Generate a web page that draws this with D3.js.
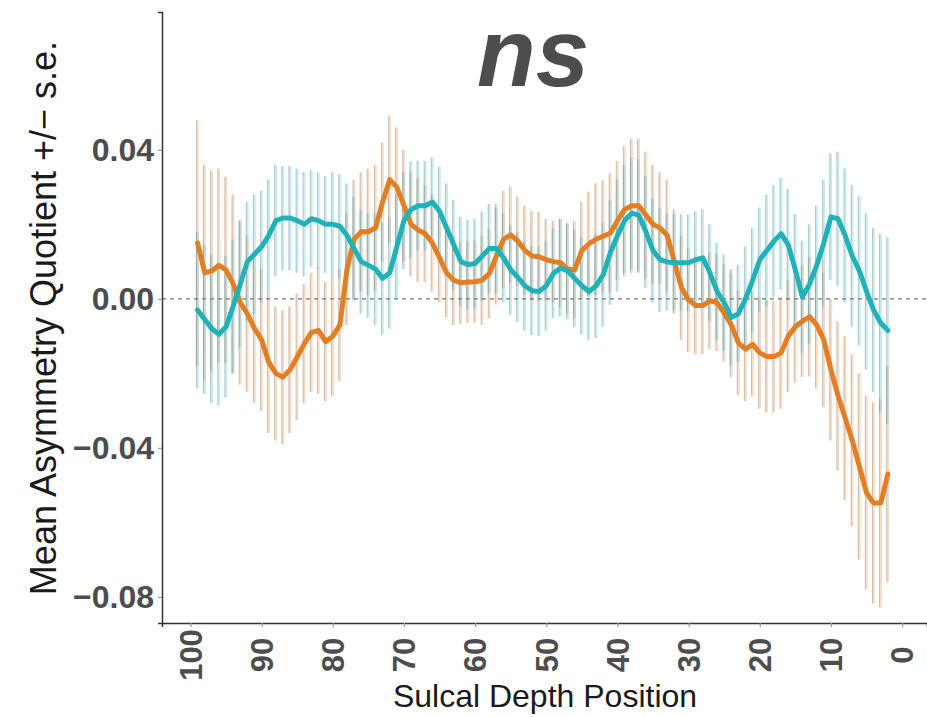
<!DOCTYPE html>
<html>
<head>
<meta charset="utf-8">
<script src="https://cdn.jsdelivr.net/npm/d3@7"></script>
<style>
  body { margin: 0; background: #fff; }
  text { font-family: "Liberation Sans", Arial, sans-serif; }
</style>
</head>
<body>
<div id="myVis"></div>
<script>
// sulcal depth positions, 99 down to 2
var positions = d3.range(99, 1, -1);

// orange group: mean and s.e. (position 99 -> 2)
var orangeMean = [
  0.015, 0.007, 0.0075, 0.009, 0.0078, 0.004, -0.001, -0.004, -0.008, -0.011,
  -0.017, -0.020, -0.021, -0.019, -0.0156, -0.012, -0.009, -0.0085, -0.0115, -0.010,
  -0.007, 0.008, 0.016, 0.018, 0.018, 0.019, 0.026, 0.032, 0.030, 0.025,
  0.020, 0.0185, 0.0175, 0.015, 0.011, 0.007, 0.005, 0.0043, 0.0045, 0.0046,
  0.005, 0.0068, 0.0115, 0.016, 0.0172, 0.0155, 0.013, 0.0115, 0.0113, 0.0105,
  0.010, 0.0097, 0.008, 0.0078, 0.013, 0.0148, 0.016, 0.0168, 0.0177, 0.021,
  0.024, 0.025, 0.025, 0.0225, 0.020, 0.019, 0.017, 0.010, 0.003, -0.0003,
  -0.0018, -0.0018, -0.0005, -0.001, -0.0038, -0.007, -0.0118, -0.0135, -0.0122, -0.0145,
  -0.0155, -0.0155, -0.0145, -0.010, -0.0075, -0.006, -0.0048, -0.007, -0.011, -0.019,
  -0.026, -0.032, -0.038, -0.045, -0.052, -0.0548, -0.0548, -0.047
];
var orangeSe = [
  0.033, 0.029, 0.027, 0.026, 0.025, 0.024, 0.022, 0.021, 0.020, 0.019,
  0.019, 0.018, 0.018, 0.017, 0.017, 0.016, 0.016, 0.017, 0.016, 0.016,
  0.015, 0.015, 0.016, 0.016, 0.017, 0.017, 0.016, 0.017, 0.016, 0.015,
  0.014, 0.014, 0.013, 0.013, 0.012, 0.012, 0.012, 0.011, 0.011, 0.011,
  0.012, 0.012, 0.013, 0.013, 0.013, 0.012, 0.012, 0.012, 0.012, 0.011,
  0.011, 0.012, 0.012, 0.013, 0.013, 0.014, 0.015, 0.015, 0.016, 0.016,
  0.017, 0.018, 0.018, 0.017, 0.016, 0.015, 0.015, 0.014, 0.014, 0.014,
  0.013, 0.013, 0.013, 0.013, 0.013, 0.014, 0.014, 0.014, 0.014, 0.015,
  0.015, 0.015, 0.015, 0.015, 0.015, 0.015, 0.016, 0.017, 0.018, 0.019,
  0.020, 0.022, 0.023, 0.025, 0.026, 0.027, 0.028, 0.029
];

// cyan group: mean and s.e. (position 99 -> 2)
var cyanMean = [
  -0.003, -0.0055, -0.008, -0.0095, -0.0075, -0.002, 0.004, 0.010, 0.012, 0.014,
  0.017, 0.021, 0.0217, 0.0217, 0.021, 0.020, 0.0215, 0.021, 0.020, 0.020,
  0.0195, 0.017, 0.0135, 0.010, 0.009, 0.008, 0.0055, 0.007, 0.014, 0.021,
  0.024, 0.025, 0.025, 0.026, 0.0235, 0.019, 0.0145, 0.010, 0.0092, 0.0095,
  0.0115, 0.0135, 0.0135, 0.011, 0.0078, 0.0058, 0.0035, 0.0022, 0.002, 0.0035,
  0.0068, 0.0083, 0.0075, 0.0055, 0.0035, 0.002, 0.0035, 0.0065, 0.0124, 0.017,
  0.021, 0.023, 0.0225, 0.018, 0.013, 0.0105, 0.0099, 0.0097, 0.0097, 0.0097,
  0.0105, 0.011, 0.007, 0.002, -0.001, -0.005, -0.004, 0.000, 0.005, 0.0105,
  0.013, 0.0155, 0.0175, 0.0145, 0.0078, 0.0005, 0.004, 0.009, 0.015, 0.022,
  0.0215, 0.017, 0.0115, 0.0075, 0.002, -0.003, -0.0065, -0.0085
];
var cyanSe = [
  0.021, 0.020, 0.020, 0.019, 0.019, 0.018, 0.017, 0.016, 0.016, 0.015,
  0.015, 0.015, 0.014, 0.014, 0.014, 0.014, 0.013, 0.013, 0.013, 0.014,
  0.014, 0.014, 0.014, 0.014, 0.014, 0.015, 0.015, 0.015, 0.014, 0.013,
  0.013, 0.012, 0.012, 0.012, 0.012, 0.012, 0.012, 0.012, 0.012, 0.012,
  0.012, 0.012, 0.012, 0.012, 0.012, 0.012, 0.012, 0.012, 0.012, 0.012,
  0.012, 0.013, 0.013, 0.013, 0.013, 0.013, 0.014, 0.014, 0.014, 0.015,
  0.015, 0.015, 0.015, 0.015, 0.014, 0.014, 0.013, 0.013, 0.013, 0.013,
  0.013, 0.013, 0.013, 0.013, 0.013, 0.013, 0.013, 0.014, 0.014, 0.014,
  0.015, 0.015, 0.015, 0.015, 0.015, 0.015, 0.016, 0.016, 0.017, 0.017,
  0.018, 0.018, 0.019, 0.020, 0.021, 0.022, 0.024, 0.025
];

var xTicks = [100, 90, 80, 70, 60, 50, 40, 30, 20, 10, 0];
var yTicks = [0.04, 0.00, -0.04, -0.08];

var width = 927;
var height = 717;
var plotLeft = 162, plotRight = 927, plotTop = 12, plotBottom = 623;

var canvas = d3
  .select("#myVis")
  .append("svg")
  .attr("width", width)
  .attr("height", height)
  .style("display", "block");

var x = d3.scaleLinear().domain([104, -3.5]).range([plotLeft, plotRight]);
var y = d3.scaleLinear().domain([-0.087, 0.077]).range([plotBottom, plotTop]);

var series = [
  { mean: orangeMean, se: orangeSe, color: "#E37E22", light: "#F2B27A" },
  { mean: cyanMean, se: cyanSe, color: "#20B2BA", light: "#7FD8E0" }
];

// error bars
series.forEach(function (s) {
  var rows = positions.map(function (p, i) {
    return { p: p, m: s.mean[i], se: s.se[i] };
  });
  var g = canvas.append("g");
  g.selectAll("line.light")
    .data(rows)
    .enter()
    .append("line")
    .attr("x1", d => x(d.p))
    .attr("x2", d => x(d.p))
    .attr("y1", d => y(d.m + d.se))
    .attr("y2", d => y(d.m - d.se))
    .attr("stroke", s.light)
    .attr("stroke-opacity", 0.45)
    .attr("stroke-width", 2.5);
  g.selectAll("line.dark")
    .data(rows)
    .enter()
    .append("line")
    .attr("x1", d => x(d.p) - 1.2)
    .attr("x2", d => x(d.p) - 1.2)
    .attr("y1", d => y(d.m + d.se))
    .attr("y2", d => y(d.m - d.se))
    .attr("stroke", "#6b6b6b")
    .attr("stroke-opacity", 0.35)
    .attr("stroke-width", 1);
});

// zero reference line
canvas
  .append("line")
  .attr("x1", plotLeft)
  .attr("x2", plotRight)
  .attr("y1", y(0))
  .attr("y2", y(0))
  .attr("stroke", "#777")
  .attr("stroke-width", 1.2)
  .attr("stroke-dasharray", "4,4");

// mean lines
series.forEach(function (s) {
  var line = d3
    .line()
    .x((d, i) => x(positions[i]))
    .y(d => y(d));
  canvas
    .append("path")
    .datum(s.mean)
    .attr("d", line)
    .attr("fill", "none")
    .attr("stroke", s.color)
    .attr("stroke-width", 5)
    .attr("stroke-linejoin", "round")
    .attr("stroke-linecap", "round");
});

// axes
var yAxis = canvas
  .append("g")
  .attr("transform", "translate(" + plotLeft + ",0)")
  .call(d3.axisLeft(y).tickValues(yTicks).tickFormat(d3.format(".2f")).tickSize(4).tickPadding(4));
yAxis.select(".domain").attr("stroke", "#333").attr("stroke-width", 1.5);
yAxis.selectAll(".tick line").attr("stroke", "#999").attr("stroke-width", 1.2);
yAxis
  .selectAll(".tick text")
  .attr("fill", "#4d4d4d")
  .style("font-size", "32px")
  .style("font-weight", "bold");

var xAxis = canvas
  .append("g")
  .attr("transform", "translate(0," + plotBottom + ")")
  .call(d3.axisBottom(x).tickValues(xTicks).tickSize(4));
xAxis.select(".domain").attr("stroke", "#333").attr("stroke-width", 1.5);
xAxis.selectAll(".tick line").attr("stroke", "#999").attr("stroke-width", 1.2);
xAxis
  .selectAll(".tick text")
  .attr("fill", "#4d4d4d")
  .style("font-size", "31px")
  .style("font-weight", "bold")
  .attr("transform", "translate(0,32) rotate(-90)")
  .attr("x", 0)
  .attr("y", 0)
  .attr("dy", "0.35em")
  .attr("text-anchor", "middle");

// axis titles
canvas
  .append("text")
  .attr("x", 545)
  .attr("y", 707)
  .attr("text-anchor", "middle")
  .attr("fill", "#1a1a1a")
  .style("font-size", "32px")
  .text("Sulcal Depth Position");

canvas
  .append("text")
  .attr("transform", "translate(56,318) rotate(-90)")
  .attr("text-anchor", "middle")
  .attr("fill", "#1a1a1a")
  .style("font-size", "36px")
  .text("Mean Asymmetry Quotient +/\u2212 s.e.");

// significance label
canvas
  .append("text")
  .attr("x", 533)
  .attr("y", 86)
  .attr("text-anchor", "middle")
  .attr("fill", "#4d4d4d")
  .style("font-size", "96px")
  .style("font-weight", "bold")
  .style("font-style", "italic")
  .text("ns");
</script>
</body>
</html>
